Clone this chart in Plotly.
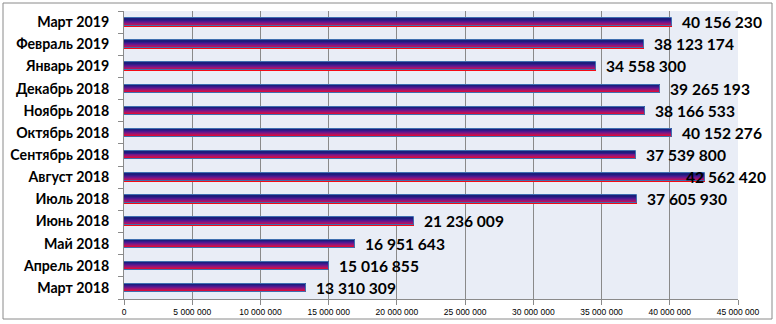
import plotly.graph_objects as go

# Monthly totals, oldest first (bottom of the chart)
months = [
    "Март 2018", "Апрель 2018", "Май 2018", "Июнь 2018", "Июль 2018",
    "Август 2018", "Сентябрь 2018", "Октябрь 2018", "Ноябрь 2018",
    "Декабрь 2018", "Январь 2019", "Февраль 2019", "Март 2019",
]
values = [
    13310309, 15016855, 16951643, 21236009, 37605930,
    42562420, 37539800, 40152276, 38166533,
    39265193, 34558300, 38123174, 40156230,
]
x_ticks = list(range(0, 45000001, 5000000))

# Gradient stripes, bottom (red) to top (navy)
stripe_colors = ["#f50a14", "#d80c3c", "#b41260", "#921678",
                 "#6f1888", "#501890", "#341a8a", "#1d1d7c"]
bar_w = 0.36
n = len(stripe_colors)
sw = bar_w / n

fig = go.Figure()
for i, c in enumerate(stripe_colors):
    fig.add_trace(go.Bar(
        x=values, y=months, orientation="h",
        width=[sw * 1.05] * len(months),
        offset=[-bar_w / 2 + i * sw] * len(months),
        marker=dict(color=c, line=dict(width=0)),
        hoverinfo="skip", showlegend=False,
    ))
# Thin blue outline around each bar
fig.add_trace(go.Bar(
    x=values, y=months, orientation="h",
    width=[bar_w] * len(months),
    offset=[-bar_w / 2] * len(months),
    marker=dict(color="rgba(0,0,0,0)", line=dict(color="#3f6fb0", width=1)),
    showlegend=False,
))


def fmt(v):
    return f"{v:,}".replace(",", " ")


pw, ph = 614, 288
left, top = 124, 11

label_font = dict(family="Lato", size=15.6, color="black", weight="bold")
annotations = []
top_val = max(values)
for m, v in zip(months, values):
    if v == top_val:
        # largest label is pulled back so it stays inside the chart frame
        annotations.append(dict(x=(768 - left) / pw, y=m, xref="paper", yref="y", text=fmt(v),
                                showarrow=False, xanchor="right", yanchor="middle",
                                font=label_font))
    else:
        annotations.append(dict(x=v, y=m, xref="x", yref="y", text=fmt(v),
                                showarrow=False, xanchor="left", yanchor="middle", xshift=8,
                                font=label_font))

# Outer chart frame (paper coordinates relative to the plot area)
frame = dict(type="rect", xref="paper", yref="paper",
             x0=(3 - left) / pw, x1=(772 - left) / pw,
             y0=(top + ph - 319) / ph, y1=(top + ph - 3) / ph,
             line=dict(color="#8a8a8a", width=1), fillcolor="rgba(0,0,0,0)", layer="below")

fig.update_layout(
    width=776, height=324,
    margin=dict(l=124, r=38, t=11, b=25),
    barmode="overlay",
    bargap=0,
    separators=", ",
    plot_bgcolor="#e9edf6",
    paper_bgcolor="white",
    annotations=annotations,
    shapes=[frame],
    xaxis=dict(
        range=[0, 45000000], tickvals=x_ticks, tickformat=",d",
        showgrid=True, gridcolor="#8a8a8a", gridwidth=1,
        showline=True, linecolor="#8a8a8a", linewidth=1,
        ticks="outside", ticklen=5, tickcolor="#8a8a8a",
        tickfont=dict(family="Liberation Sans", size=8.5, color="black"),
        zeroline=False, fixedrange=True, automargin=False,
    ),
    yaxis=dict(
        categoryorder="array", categoryarray=months,
        showgrid=False, showline=True, linecolor="#8a8a8a", linewidth=1,
        ticks="outside", ticklen=5, tickcolor="#8a8a8a", tickson="boundaries",
        tickfont=dict(family="Lato", size=14.2, color="black", weight="bold"),
        ticklabelstandoff=11,
        fixedrange=True, automargin=False,
    ),
)

fig.write_html("out.html")
